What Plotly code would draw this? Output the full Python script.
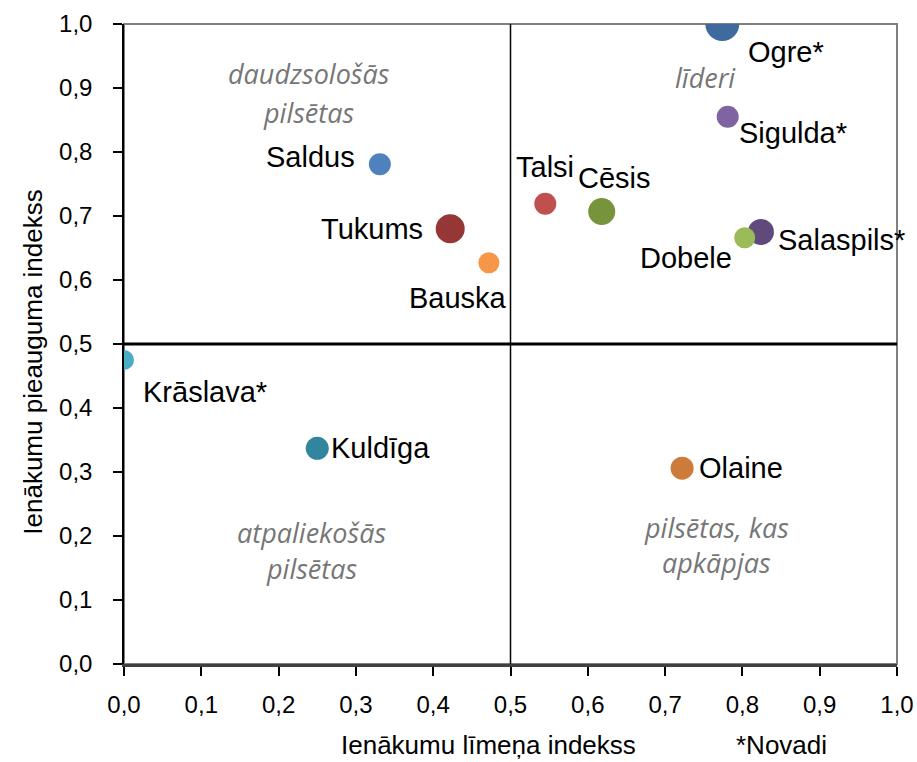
import plotly.graph_objects as go

# ---- data ----
cities = ["Ogre*", "Sigulda*", "Saldus", "Talsi", "Cēsis", "Tukums", "Bauska",
          "Salaspils*", "Dobele", "Krāslava*", "Kuldīga", "Olaine"]
income_level = [0.774, 0.781, 0.331, 0.545, 0.618, 0.422, 0.472,
                0.824, 0.803, 0.000, 0.250, 0.722]
income_growth = [1.000, 0.855, 0.781, 0.719, 0.707, 0.680, 0.627,
                 0.675, 0.666, 0.475, 0.337, 0.306]
bubble_size = [34, 22, 22, 22, 27, 29, 21, 26, 21, 20, 23, 23]

threshold = 0.5
x_ticks = [0.0, 0.1, 0.2, 0.3, 0.4, 0.5, 0.6, 0.7, 0.8, 0.9, 1.0]
y_ticks = [0.0, 0.1, 0.2, 0.3, 0.4, 0.5, 0.6, 0.7, 0.8, 0.9, 1.0]

x_title = "Ienākumu līmeņa indekss"
y_title = "Ienākumu pieauguma indekss"
note = "*Novadi"
quadrants = [
    ("daudzsološās", 0.239, 0.923), ("pilsētas", 0.239, 0.861),
    ("līderi", 0.752, 0.916),
    ("atpaliekošās", 0.243, 0.206), ("pilsētas", 0.243, 0.150),
    ("pilsētas, kas", 0.767, 0.214), ("apkāpjas", 0.767, 0.158),
]

# ---- style ----
colors = ["#3E6A9E", "#8064A2", "#4F81BD", "#C0504D", "#77933C", "#953735",
          "#F79646", "#604A7B", "#9BBB59", "#4BACC6", "#31859C", "#CC7B3A"]
# label placement per city (same order as cities): (xanchor, xshift, yshift) in px
label_pos = [
    ("left", 24, -28),    # Ogre*
    ("left", 9, -16),     # Sigulda*
    ("right", -23, 7),    # Saldus
    ("center", 0, 37),    # Talsi
    ("center", 13, 34),   # Cēsis
    ("right", -25, 0),    # Tukums
    ("center", -31, -35), # Bauska
    ("left", 15, -8),     # Salaspils*
    ("right", -11, -20),  # Dobele
    ("left", 17, -32),    # Krāslava*
    ("left", 12, 0),      # Kuldīga
    ("left", 15, 0),      # Olaine
]

FONT = "Liberation Sans, Arial, sans-serif"

fig = go.Figure()
fig.add_trace(go.Scatter(
    x=income_level, y=income_growth, mode="markers",
    marker=dict(size=bubble_size, color=colors, line=dict(width=0), opacity=1),
    hoverinfo="text", text=cities, showlegend=False,
))

annotations = []
for name, xv, yv, (anc, dx, dy) in zip(cities, income_level, income_growth, label_pos):
    annotations.append(dict(x=xv, y=yv, xref="x", yref="y", text=name, showarrow=False,
                            xanchor=anc, yanchor="middle", xshift=dx, yshift=dy,
                            font=dict(family=FONT, size=29, color="black")))
for txt, qx, qy in quadrants:
    annotations.append(dict(x=qx, y=qy, xref="x", yref="y", text="<i>" + txt + "</i>",
                            showarrow=False, xanchor="center", yanchor="middle",
                            font=dict(family="Open Sans, sans-serif", size=27, color="#767676")))
annotations.append(dict(x=0.471, y=-0.127, xref="paper", yref="paper", text=x_title,
                        showarrow=False, xanchor="center", yanchor="middle",
                        font=dict(family=FONT, size=26, color="black")))
annotations.append(dict(x=0.85, y=-0.127, xref="paper", yref="paper", text=note,
                        showarrow=False, xanchor="center", yanchor="middle",
                        font=dict(family=FONT, size=26, color="black")))
annotations.append(dict(x=-0.118, y=0.472, xref="paper", yref="paper", text=y_title,
                        showarrow=False, textangle=-90, xanchor="center", yanchor="middle",
                        font=dict(family=FONT, size=26, color="black")))

shapes = [
    dict(type="rect", xref="paper", yref="paper", x0=0, y0=0, x1=1, y1=1,
         line=dict(color="#808080", width=2), layer="below"),
    dict(type="line", xref="x", yref="y", x0=threshold, x1=threshold, y0=0, y1=1,
         line=dict(color="black", width=1.5), layer="below"),
    dict(type="line", xref="x", yref="y", x0=0, x1=1, y0=threshold, y1=threshold,
         line=dict(color="black", width=3), layer="below"),
]

fig.update_layout(
    width=917, height=762,
    margin=dict(l=124, r=20, t=24, b=98, autoexpand=False),
    plot_bgcolor="white", paper_bgcolor="white",
    separators=", ",
    annotations=annotations, shapes=shapes,
    font=dict(family=FONT, color="black"),
)
fig.update_xaxes(range=[0, 1], tickvals=x_ticks, tickformat=".1f",
                 ticks="outside", ticklen=9, tickwidth=1.5, tickcolor="black",
                 showline=True, linecolor="#404040", linewidth=3,
                 showgrid=False, zeroline=False, ticklabelstandoff=8,
                 tickfont=dict(family=FONT, size=24, color="black"))
fig.update_yaxes(range=[0, 1], tickvals=y_ticks, tickformat=".1f",
                 ticks="outside", ticklen=9, tickwidth=1.5, tickcolor="black",
                 showline=True, linecolor="black", linewidth=1.5,
                 showgrid=False, zeroline=False, ticklabelstandoff=16,
                 tickfont=dict(family=FONT, size=24, color="black"))

fig.write_html("out.html", config={"displayModeBar": False},
               post_script="document.body.style.margin='0px';document.body.style.overflow='hidden';")
